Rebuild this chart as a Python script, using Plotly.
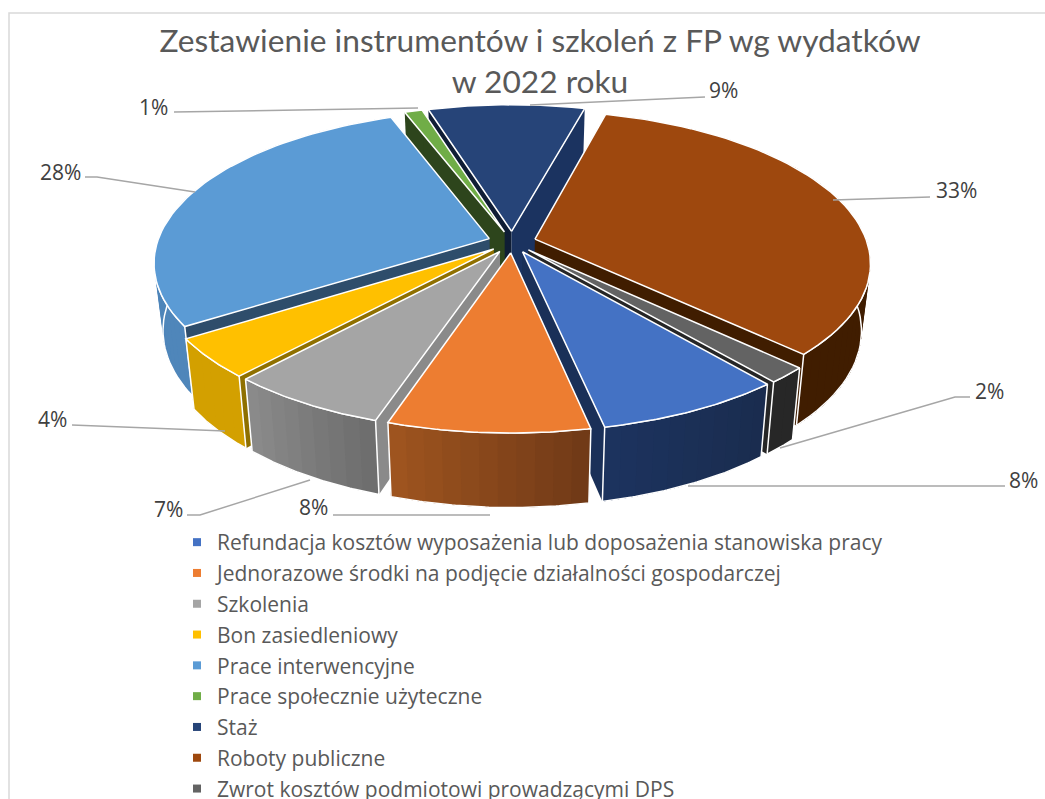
import math
import plotly.graph_objects as go

# ---- data ----
categories = ["Refundacja kosztów wyposażenia lub doposażenia stanowiska pracy",
              "Jednorazowe środki na podjęcie działalności gospodarczej",
              "Szkolenia", "Bon zasiedleniowy", "Prace interwencyjne",
              "Prace społecznie użyteczne", "Staż", "Roboty publiczne",
              "Zwrot kosztów podmiotowi prowadzącymi DPS"]
values = [7.8, 8.3, 6.6, 4.2, 28.49, 1.0, 8.8, 33.15, 1.7]
title_lines = ["Zestawienie instrumentów i szkoleń z FP wg wydatków", "w 2022 roku"]

# ---- style ----
top_colors = ["#4472c4", "#ed7d31", "#a5a5a5", "#ffc000", "#5b9bd5", "#70ad47", "#264478", "#9e480e", "#636363"]
wall_start = ["#1a2c4e", "#6f3917", "#6c6c6c", "#d3a000", "#4f86ba", "#436b2a", "#1b3360", "#401d00", "#272727"]
wall_end = ["#1c335f", "#a0551f", "#8c8c8c", "#d3a000", "#4a82b8", "#436b2a", "#1b3360", "#401d00", "#272727"]
face_start = ["#1a3058", "#8a4a1a", "#8a8a8a", "#8f7000", "#2e4d6b", "#2d451c", "#0f1d35", "#401d00", "#262626"]
face_end = ["#1a3058", "#8a4a1a", "#8a8a8a", "#8f7000", "#2e4d6b", "#2d451c", "#1b3360", "#401d00", "#262626"]
START = 140.2
CX, CY, RX, RY, K, D, EXPL = 512, 242, 332, 149, 0.153, 68, 0.072
TITLE_FONT = "Lato"
FONT = "Open Sans"


def proj(u, v, z=0.0):
    s = (1 / (1 - K * v)) * (1 - 0.025 * z)
    return CX + RX * u * s, CY + (RY * v + D * z) * s


def mix(a, b, t):
    ca = [int(a[i:i + 2], 16) for i in (1, 3, 5)]
    cb = [int(b[i:i + 2], 16) for i in (1, 3, 5)]
    return "rgb(%d,%d,%d)" % tuple(round(x + (y - x) * t) for x, y in zip(ca, cb))


def poly(fig, pts, fill, line="white", w=1.5):
    fig.add_trace(go.Scatter(x=[p[0] for p in pts] + [pts[0][0]], y=[p[1] for p in pts] + [pts[0][1]],
                             mode="lines", fill="toself", fillcolor=fill,
                             line=dict(color=line, width=w), hoverinfo="skip", showlegend=False))


total = sum(values)
slices = []
a = START
for i, val in enumerate(values):
    sweep = 360 * val / total
    slices.append((i, a, a + sweep))
    a += sweep


def bis_v(s):
    return -math.cos(math.radians((s[1] + s[2]) / 2))


fig = go.Figure()
for i, a0, a1 in sorted(slices, key=bis_v):
    mid = math.radians((a0 + a1) / 2)
    ox, oy = EXPL * math.sin(mid), -EXPL * math.cos(mid)

    def P(ang, r=1.0, z=0.0):
        t = math.radians(ang)
        return proj(ox + r * math.sin(t), oy - r * math.cos(t), z)

    # radial faces (no outline: their lower edges would show as stray white lines)
    poly(fig, [P(a0, 0), P(a0), P(a0, 1, 1), P(a0, 0, 1)], face_start[i], "rgba(0,0,0,0)", 0)
    poly(fig, [P(a1, 0), P(a1), P(a1, 1, 1), P(a1, 0, 1)], face_end[i], "rgba(0,0,0,0)", 0)
    angs = [a0 + (a1 - a0) * j / 60 for j in range(61)]
    # outer wall only for slices whose rim is not wholly at the back of the pie
    if not (math.cos(math.radians(a0)) > 0 and math.cos(math.radians(a1)) > 0):
        # shaded bands, each reaching to the far end so no seams show
        n = max(2, int((a1 - a0) / 2.5))
        for b in range(n):
            b0 = a0 + (a1 - a0) * b / n
            band = [b0 + (a1 - b0) * j / 40 for j in range(41)]
            pts = [P(t) for t in band] + [P(t, 1, 1) for t in reversed(band)]
            poly(fig, pts, mix(wall_start[i], wall_end[i], (b + .5) / n), "rgba(0,0,0,0)", 0)
        outline = [P(t) for t in angs] + [P(t, 1, 1) for t in reversed(angs)]
        fig.add_trace(go.Scatter(x=[p[0] for p in outline] + [outline[0][0]],
                                 y=[p[1] for p in outline] + [outline[0][1]],
                                 mode="lines", line=dict(color="white", width=1.5),
                                 hoverinfo="skip", showlegend=False))
    # top face
    poly(fig, [P(a0, 0)] + [P(t) for t in angs], top_colors[i])

# leader lines and labels: one per category, positions are layout only
leaders = [[(688, 486), (1005, 486)], [(490, 515), (333, 515)], [(310, 480), (200, 515), (187, 515)],
           [(225, 431), (72, 425)], [(195, 192), (97, 177), (85, 177)], [(418, 108), (174, 112)],
           [(530, 105), (705, 97)], [(833, 200), (930, 197)], [(780, 448), (955, 397), (970, 397)]]
label_pos = [(1023, 480), (313, 507), (168, 509), (52, 419), (60, 172), (153, 107), (723, 90), (956, 190), (989, 391)]
for pts, (lx, ly), val in zip(leaders, label_pos, values):
    fig.add_trace(go.Scatter(x=[p[0] for p in pts], y=[p[1] for p in pts], mode="lines",
                             line=dict(color="#a6a6a6", width=1.5), hoverinfo="skip", showlegend=False))
    fig.add_annotation(x=lx, y=ly, text=f"{round(100 * val / total)}%", showarrow=False,
                       font=dict(family=FONT, size=21, color="#404040"))

# legend entries
for name, col in zip(categories, top_colors):
    fig.add_trace(go.Scatter(x=[None], y=[None], mode="markers", name=name, legendgroup=name,
                             marker=dict(symbol="square", size=8, color=col)))

fig.update_layout(
    width=1045, height=799, margin=dict(l=0, r=0, t=0, b=0, autoexpand=False),
    paper_bgcolor="white", plot_bgcolor="white",
    xaxis=dict(range=[0, 1045], visible=False, fixedrange=True),
    yaxis=dict(range=[799, 0], visible=False, fixedrange=True),
    title=dict(text="<br>".join(title_lines), x=540 / 1045, xanchor="center", y=1 - 52 / 799, yanchor="middle",
               font=dict(family=TITLE_FONT, size=31.7, color="#595959")),
    legend=dict(x=186 / 1045, y=1 - 522 / 799, xanchor="left", yanchor="top", bgcolor="rgba(0,0,0,0)",
                indentation=-9, tracegroupgap=0.5,
                font=dict(family=FONT, size=21, color="#595959")),
    shapes=[dict(type="path", path="M 9 799 L 9 13 L 1045 13", line=dict(color="#d9d9d9", width=1.5),
                 xref="x", yref="y")],
)
fig.write_html("out.html", config=dict(displayModeBar=False),
               post_script="document.body.style.margin='0';")
